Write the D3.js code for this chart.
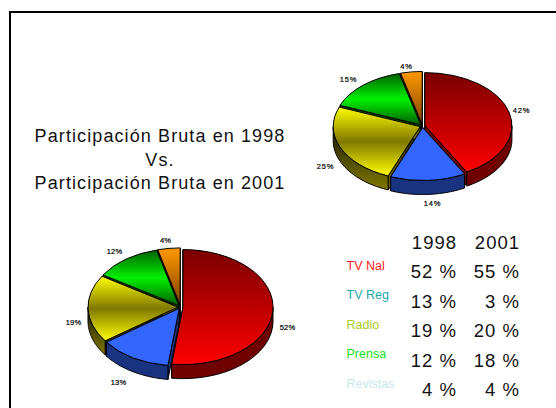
<!DOCTYPE html>
<html>
<head>
<meta charset="utf-8">
<script src="https://cdn.jsdelivr.net/npm/d3@7"></script>
<style>
html, body { margin: 0; padding: 0; background: #fff; overflow: hidden; }
text { font-family: "Liberation Sans", Arial, sans-serif; }
</style>
</head>
<body>
<div id="chart"></div>
<script>
const categories = ["TV Nal", "TV Reg", "Radio", "Prensa", "Revistas"];
const legendColors = ["#ff2020", "#20a8a8", "#a8cc20", "#10e020", "#c8e8e8"];

// the pies do not show the same numbers as the table for 2001, kept as printed
const pie1998 = [52, 13, 19, 12, 4];
const pie2001 = [42, 14, 25, 15, 4];
const table1998 = [52, 13, 19, 12, 4];
const table2001 = [55, 3, 20, 18, 4];
const tableYears = ["1998", "2001"];
const titleLines = ["Participación Bruta en 1998", "Vs.", "Participación Bruta en 2001"];

const width = 556, height = 408;

const svg = d3.select("#chart").append("svg")
    .attr("width", width)
    .attr("height", height);
const defs = svg.append("defs");

function gradient(id, stops) {
    const g = defs.append("linearGradient").attr("id", id)
        .attr("x1", 0).attr("y1", 0).attr("x2", 0).attr("y2", 1);
    stops.forEach(s => g.append("stop").attr("offset", s[0]).attr("stop-color", s[1]));
    return `url(#${id})`;
}

const topFills = [
    gradient("gRed", [[0, "#7a0000"], [1, "#ff0000"]]),
    "#3366ff",
    gradient("gYellow", [[0, "#ffff00"], [0.5, "#807800"], [1, "#ffff00"]]),
    gradient("gGreen", [[0, "#006000"], [0.5, "#00f000"], [1, "#006000"]]),
    gradient("gOrange", [[0, "#ff9900"], [1, "#804000"]])
];
const sideFills = [
    "#700000",
    "#1a3380",
    gradient("gYellowSide", [[0, "#181800"], [1, "#807800"]]),
    "#006000",
    "#804000"
];

// draws one exploded pie: flat d3.arc squashed in y, walls sampled along the rim
function drawPie(values, cx, cy, rx, ry, depth, explode, labelOffsets, labelSpacing) {
    const k = ry / rx;
    const g = svg.append("g").attr("transform", `translate(${cx},${cy})`);
    const arcs = d3.pie().sort(null)(values);
    const arc = d3.arc().innerRadius(0).outerRadius(rx);

    const pt = (a, r, off) => [Math.sin(a) * r + off[0], -Math.cos(a) * r * k + off[1]];
    const line = d3.line();

    arcs.forEach(d => {
        const mid = (d.startAngle + d.endAngle) / 2;
        d.off = [Math.sin(mid) * explode, -Math.cos(mid) * explode * k];
    });

    const walls = g.append("g");
    // back slices first so the front ones sit over them
    arcs.slice().sort((a, b) => Math.abs(Math.PI - (a.startAngle + a.endAngle) / 2) < Math.abs(Math.PI - (b.startAngle + b.endAngle) / 2) ? 1 : -1)
        .forEach(d => {
            const fill = sideFills[d.index];
            // radial cut faces
            [d.startAngle, d.endAngle].forEach(a => {
                const p0 = pt(a, 0, d.off), p1 = pt(a, rx, d.off);
                walls.append("path")
                    .attr("d", line([p0, p1, [p1[0], p1[1] + depth], [p0[0], p0[1] + depth]]) + "Z")
                    .attr("fill", fill).attr("stroke", "#000").attr("stroke-width", 1);
            });
            // rim wall, only the part facing the viewer
            const a0 = Math.max(d.startAngle, Math.PI / 2), a1 = Math.min(d.endAngle, Math.PI * 1.5);
            if (a1 > a0) {
                const n = 40;
                const upper = d3.range(n + 1).map(i => pt(a0 + (a1 - a0) * i / n, rx, d.off));
                const lower = upper.map(p => [p[0], p[1] + depth]).reverse();
                walls.append("path")
                    .attr("d", line(upper.concat(lower)) + "Z")
                    .attr("fill", fill).attr("stroke", "#000").attr("stroke-width", 1);
            }
        });

    // slice tops
    arcs.forEach(d => {
        g.append("path")
            .attr("transform", `translate(${d.off[0]},${d.off[1]}) scale(1,${k})`)
            .attr("d", arc(d))
            .attr("fill", topFills[d.index])
            .attr("stroke", "#000")
            .attr("stroke-width", 1)
            .attr("vector-effect", "non-scaling-stroke");
    });

    arcs.forEach(d => {
        g.append("text")
            .attr("x", labelOffsets[d.index][0])
            .attr("y", labelOffsets[d.index][1])
            .attr("text-anchor", "middle")
            .attr("font-size", 7.5)
            .attr("letter-spacing", labelSpacing)
            .attr("fill", "#000")
            .attr("stroke", "#000")
            .attr("stroke-width", 0.2)
            .text(d.value + "%");
    });
}

drawPie(pie2001, 422.5, 126, 87, 53, 14, 2.5,
    [[99, -13], [10, 80], [-97, 43], [-74, -44], [-16, -57]], 0.8);
drawPie(pie1998, 180.5, 307, 90, 57.5, 14, 2.5,
    [[107, 23], [-62, 78], [-107, 18], [-66, -53], [-15, -64]], 0.2);

// frame, only left and top edges are in the picture
svg.append("path")
    .attr("d", d3.line()([[10, height], [10, 12], [width, 12]]))
    .attr("fill", "none").attr("stroke", "#000").attr("stroke-width", 2);

// title
svg.append("g").selectAll("text").data(titleLines).enter().append("text")
    .attr("x", 160)
    .attr("y", (d, i) => 142 + i * 23.5)
    .attr("text-anchor", "middle")
    .attr("font-size", 18)
    .attr("letter-spacing", 1.1)
    .attr("fill", "#111")
    .text(d => d);

// table
const rowY = d3.scalePoint().domain(d3.range(6)).range([249, 396]);
const colX = d3.scaleOrdinal().domain(tableYears).range([457, 520]);

svg.append("g").selectAll("text").data(tableYears).enter().append("text")
    .attr("x", d => colX(d))
    .attr("y", rowY(0))
    .attr("text-anchor", "end")
    .attr("font-size", 18.5)
    .attr("letter-spacing", 1)
    .attr("fill", "#111")
    .text(d => d);

[table1998, table2001].forEach((vals, c) => {
    svg.append("g").selectAll("text").data(vals).enter().append("text")
        .attr("x", colX(tableYears[c]))
        .attr("y", (d, i) => rowY(i + 1))
        .attr("text-anchor", "end")
        .attr("font-size", 18.5)
        .attr("letter-spacing", 1)
        .attr("fill", "#111")
        .text(d => d + " %");
});

svg.append("g").selectAll("text").data(categories).enter().append("text")
    .attr("x", 346.5)
    .attr("y", (d, i) => rowY(i + 1) - 8.5)
    .attr("font-size", 12.5)
    .attr("fill", (d, i) => legendColors[i])
    .text(d => d);
</script>
</body>
</html>
